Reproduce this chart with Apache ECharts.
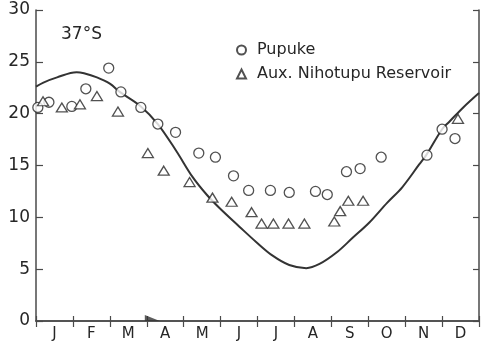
<!DOCTYPE html>
<html>
<head>
<meta charset="utf-8">
<script src="https://cdn.jsdelivr.net/npm/echarts@6/dist/echarts.min.js"></script>
<style>
  html, body { margin: 0; padding: 0; background: #fff; }
  #chart { width: 486px; height: 349px; }
</style>
</head>
<body>
<div id="chart"></div>
<script>
// Month initials along the bottom axis
const months = ['J', 'F', 'M', 'A', 'M', 'J', 'J', 'A', 'S', 'O', 'N', 'D'];

// Temperature axis range (°C)
const tempMin = 0;
const tempMax = 30;
const tempStep = 5;

// Lake Pupuke surface temperatures: [month position, °C]
const pupuke = [
  [0.05, 20.6], [0.35, 21.1], [0.97, 20.7], [1.35, 22.4], [1.97, 24.4],
  [2.30, 22.1], [2.84, 20.6], [3.30, 19.0], [3.78, 18.2], [4.41, 16.2],
  [4.86, 15.8], [5.35, 14.0], [5.76, 12.6], [6.35, 12.6], [6.86, 12.4],
  [7.57, 12.5], [7.89, 12.2], [8.41, 14.4], [8.78, 14.7], [9.35, 15.8],
  [10.59, 16.0], [11.00, 18.5], [11.35, 17.6]
];

// Auxiliary Nihotupu Reservoir surface temperatures: [month position, °C]
const nihotupu = [
  [0.19, 21.2], [0.70, 20.6], [1.19, 20.9], [1.65, 21.7], [2.22, 20.2],
  [3.03, 16.2], [3.46, 14.5], [4.16, 13.4], [4.78, 11.9], [5.30, 11.5],
  [5.84, 10.5], [6.11, 9.4], [6.43, 9.4], [6.84, 9.4], [7.27, 9.4],
  [8.08, 9.6], [8.24, 10.6], [8.46, 11.6], [8.86, 11.6], [11.43, 19.5]
];

// Seasonal temperature curve at 37°S: [month position, °C]
const seasonal = [
  [0, 22.6], [0.2, 23.0], [0.57, 23.5], [1.1, 24.0], [1.3, 23.9],
  [1.65, 23.5], [2.0, 22.9], [2.27, 22.1], [2.84, 20.7], [3.3, 19.0],
  [3.8, 16.4], [4.24, 13.9], [4.62, 12.2], [4.97, 10.9], [5.51, 9.1],
  [5.97, 7.6], [6.41, 6.3], [6.86, 5.4], [7.32, 5.1], [7.68, 5.5],
  [8.14, 6.6], [8.57, 8.0], [9.03, 9.5], [9.51, 11.4], [9.92, 12.9],
  [10.38, 15.1], [10.57, 16.0], [11.0, 18.5], [11.19, 19.2], [11.6, 20.7],
  [12, 22.0]
];

// Small arrowhead sitting on the month axis
const arrowMark = [[3.15, 0]];

const ink = '#262626';
const axisInk = '#4a4a4a';
const font = "'DejaVu Sans', 'Liberation Sans', Arial, sans-serif";

const chart = echarts.init(document.getElementById('chart'), null, { renderer: 'canvas' });

const frameAxisLine = { show: true, lineStyle: { color: axisInk, width: 1.5 } };

chart.setOption({
  animation: false,
  backgroundColor: '#fff',
  textStyle: { fontFamily: font },
  grid: { left: 36, right: 7, top: 10, bottom: 28, containLabel: false },
  title: {
    text: '37°S',
    left: 56, top: 21,
    textStyle: { fontFamily: font, fontSize: 17, fontWeight: 'normal', color: ink }
  },
  legend: {
    orient: 'vertical',
    left: 231, top: 37,
    itemGap: 8,
    itemWidth: 9, itemHeight: 9,
    textStyle: { fontFamily: font, fontSize: 16, color: ink, padding: [0, 0, 0, 6] },
    data: ['Pupuke', 'Aux. Nihotupu Reservoir']
  },
  xAxis: [
    {
      // bottom month axis: labels between the month boundaries
      type: 'category', data: months, position: 'bottom', boundaryGap: true,
      axisLine: frameAxisLine,
      axisTick: { show: true, inside: true, length: 5, lineStyle: { color: axisInk, width: 1.2 } },
      axisLabel: { color: ink, fontSize: 15, margin: 6, fontFamily: font },
      splitLine: { show: false }
    },
    {
      // top frame with month boundary ticks
      type: 'category', data: months, position: 'top', boundaryGap: true,
      axisLine: frameAxisLine,
      axisTick: { show: true, inside: true, length: 6, lineStyle: { color: axisInk, width: 1.2 } },
      axisLabel: { show: false },
      splitLine: { show: false }
    },
    {
      // continuous month scale the data are plotted on
      type: 'value', min: 0, max: 12, show: false, position: 'bottom'
    }
  ],
  yAxis: [
    {
      type: 'value', min: tempMin, max: tempMax, interval: tempStep, position: 'left',
      axisLine: frameAxisLine,
      axisTick: { show: true, inside: true, length: 7, lineStyle: { color: axisInk, width: 1.2 } },
      axisLabel: { color: ink, fontSize: 17, margin: 6, fontFamily: font },
      splitLine: { show: false }
    },
    {
      type: 'value', min: tempMin, max: tempMax, interval: tempStep, position: 'right',
      axisLine: frameAxisLine,
      axisTick: { show: true, inside: true, length: 6, lineStyle: { color: axisInk, width: 1.2 } },
      axisLabel: { show: false },
      splitLine: { show: false }
    }
  ],
  series: [
    {
      name: 'seasonal', type: 'line', xAxisIndex: 2, yAxisIndex: 0,
      data: seasonal, smooth: 0.35, showSymbol: false, silent: true,
      lineStyle: { color: '#333', width: 2 },
      z: 2
    },
    {
      name: 'Pupuke', type: 'scatter', xAxisIndex: 2, yAxisIndex: 0,
      data: pupuke, symbol: 'circle', symbolSize: 10,
      itemStyle: { color: '#fff', borderColor: ink, borderWidth: 1.3 },
      z: 3
    },
    {
      name: 'Aux. Nihotupu Reservoir', type: 'scatter', xAxisIndex: 2, yAxisIndex: 0,
      data: nihotupu, symbol: 'triangle', symbolSize: [11, 9],
      itemStyle: { color: '#fff', borderColor: ink, borderWidth: 1.3 },
      z: 3
    },
    {
      name: 'arrow', type: 'scatter', xAxisIndex: 2, yAxisIndex: 0,
      data: arrowMark, symbol: 'path://M0,0 L0,6 L15,6 Z', symbolSize: [15, 6],
      symbolOffset: [0, -3], silent: true,
      itemStyle: { color: '#333' },
      z: 4
    }
  ]
});
</script>
</body>
</html>
